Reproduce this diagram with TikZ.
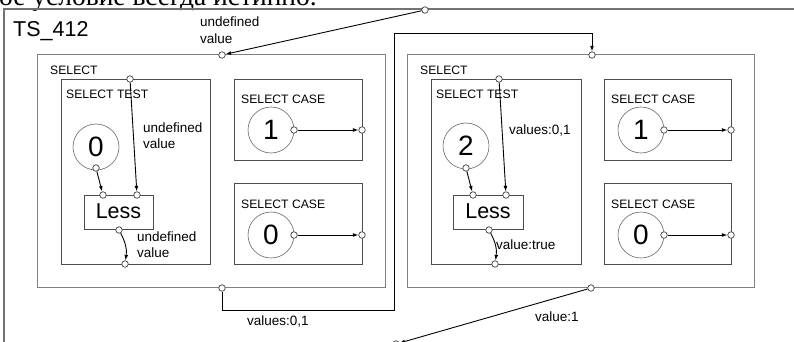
\documentclass[tikz,border=0pt]{standalone}
\usepackage{fontspec}
\setmainfont{Liberation Sans}
\newfontfamily\cyrserif{Liberation Serif}
\usetikzlibrary{arrows.meta}
\begin{document}
\begin{tikzpicture}[x=1pt,y=-1pt,
  framebox/.style={draw=black!55,line width=1.6pt,inner sep=0pt,outer sep=0pt,anchor=north west},
  selbox/.style={draw=black!50,line width=1pt,inner sep=0pt,outer sep=0pt,anchor=north west},
  subbox/.style={draw=black!70,line width=0.9pt,inner sep=0pt,outer sep=0pt,anchor=north west},
  numc/.style={circle,draw=black!60,line width=0.6pt,minimum size=46pt,inner sep=0pt,font=\fontsize{28}{30}\selectfont},
  port/.style={circle,draw=black!75,fill=white,line width=0.7pt,minimum size=6.5pt,inner sep=0pt},
  conn/.style={draw=black,line width=0.9pt},
  arr/.style={conn,-{Latex[length=5.5pt,width=3.8pt]}},
  lbl/.style={anchor=base west,inner sep=0pt,font=\fontsize{13.5}{15}\selectfont},
  tlbl/.style={anchor=base west,inner sep=0pt,font=\fontsize{12.2}{14}\selectfont},
]
\useasboundingbox (0,0) rectangle (794,342);
\begin{scope}
\clip (0,0) rectangle (794,342);
\node[anchor=base west,inner sep=0pt,font=\cyrserif\fontsize{27.5}{30}\selectfont] (head) at (-1,6) {ое условие всегда истинно.};
% outer frame
\node[framebox,minimum width=810pt,minimum height=350pt] (ts) at (4,9) {};
\end{scope}
\node[anchor=base west,inner sep=0pt,font=\fontsize{21.5}{24}\selectfont] (tsl) at (13,37) {TS\_412};

% SELECT boxes
\node[selbox,minimum width=348pt,minimum height=232pt] (sel1) at (37,55) {};
\node[selbox,minimum width=347pt,minimum height=232pt] (sel2) at (407,55) {};
\node[tlbl] (sel1l) at (50,75) {SELECT};
\node[tlbl] (sel2l) at (420,75) {SELECT};

% SELECT TEST boxes
\node[subbox,minimum width=149pt,minimum height=185pt] (tst1) at (61,79) {};
\node[subbox,minimum width=150pt,minimum height=185pt] (tst2) at (431,79) {};
\node[tlbl] (tst1l) at (66,99) {SELECT TEST};
\node[tlbl] (tst2l) at (436,99) {SELECT TEST};

% SELECT CASE boxes
\node[subbox,minimum width=128pt,minimum height=81pt] (ca1) at (234,79) {};
\node[subbox,minimum width=128pt,minimum height=81pt] (cb1) at (234,183) {};
\node[subbox,minimum width=127pt,minimum height=81pt] (ca2) at (604,79) {};
\node[subbox,minimum width=127pt,minimum height=81pt] (cb2) at (604,183) {};
\node[tlbl] (ca1l) at (241,103) {SELECT CASE};
\node[tlbl] (cb1l) at (241,208) {SELECT CASE};
\node[tlbl] (ca2l) at (611,103) {SELECT CASE};
\node[tlbl] (cb2l) at (611,208) {SELECT CASE};

% Less boxes
\node[subbox,minimum width=69pt,minimum height=34pt] (less1) at (84,195) {};
\node[subbox,minimum width=70pt,minimum height=34pt] (less2) at (453,195) {};
\node[anchor=base,inner sep=0pt,font=\fontsize{21.5}{24}\selectfont] (less1t) at (118.5,218) {Less};
\node[anchor=base,inner sep=0pt,font=\fontsize{21.5}{24}\selectfont] (less2t) at (488,218) {Less};

% number circles
\node[numc] (n0) at (96,147) {0};
\node[numc] (n1a) at (271,130) {1};
\node[numc] (n0a) at (271,235) {0};
\node[numc] (n2) at (466,146) {2};
\node[numc] (n1b) at (641,130) {1};
\node[numc] (n0b) at (641,235) {0};

% ports
\node[port] (tsp) at (425,10) {};
\node[port] (s1t) at (222,55) {};
\node[port] (s1b) at (222,288) {};
\node[port] (s2t) at (592,55) {};
\node[port] (s2b) at (591,288) {};
\node[port] (t1t) at (130,79) {};
\node[port] (t1b) at (125,264) {};
\node[port] (t2t) at (499,79) {};
\node[port] (t2b) at (495,264) {};
\node[port] (n0p) at (96,168) {};
\node[port] (n2p) at (466,168) {};
\node[port] (l1a) at (103,195) {};
\node[port] (l1b) at (137,195) {};
\node[port] (l1o) at (119,230) {};
\node[port] (l2a) at (473,195) {};
\node[port] (l2b) at (506,195) {};
\node[port] (l2o) at (489,230) {};
\node[port] (n1ap) at (294,130) {};
\node[port] (ca1o) at (362,130) {};
\node[port] (n0ap) at (294,235) {};
\node[port] (cb1o) at (362,235) {};
\node[port] (n1bp) at (664,130) {};
\node[port] (ca2o) at (731,130) {};
\node[port] (n0bp) at (664,235) {};
\node[port] (cb2o) at (731,235) {};
\node[port] (endp) at (396,344) {};

\coordinate (k1) at (394,310);
\coordinate (k2) at (394,33);

% connectors
\draw[arr] (tsp) -- (s1t);
\draw[arr] (s1b) |- (k1) -- (k2) -| (s2t);
\draw[arr] (t1t) -- (l1b);
\draw[arr] (n0p) -- (l1a);
\draw[arr] (l1o) to[bend left=18] (t1b);
\draw[arr] (t2t) -- (l2b);
\draw[arr] (n2p) -- (l2a);
\draw[arr] (l2o) to[bend left=18] (t2b);
\draw[arr] (n1ap) -- (ca1o);
\draw[arr] (n0ap) -- (cb1o);
\draw[arr] (n1bp) -- (ca2o);
\draw[arr] (n0bp) -- (cb2o);
\begin{scope}
\clip (0,0) rectangle (794,342);
\draw[arr] (s2b) -- (endp);
\end{scope}

% labels
\node[lbl] (u1) at (200,27) {undefined};
\node[lbl] (u1b) at (200,44) {value};
\node[lbl] (u2) at (143,132) {undefined};
\node[lbl] (u2b) at (143,148) {value};
\node[lbl] (u3) at (137,241) {undefined};
\node[lbl] (u3b) at (137,257) {value};
\node[lbl] (v1) at (247,325) {values:0,1};
\node[lbl] (v2) at (509,135) {values:0,1};
\node[lbl] (v3) at (496,249) {value:true};
\node[lbl] (v4) at (535,321) {value:1};
\end{tikzpicture}
\end{document}
